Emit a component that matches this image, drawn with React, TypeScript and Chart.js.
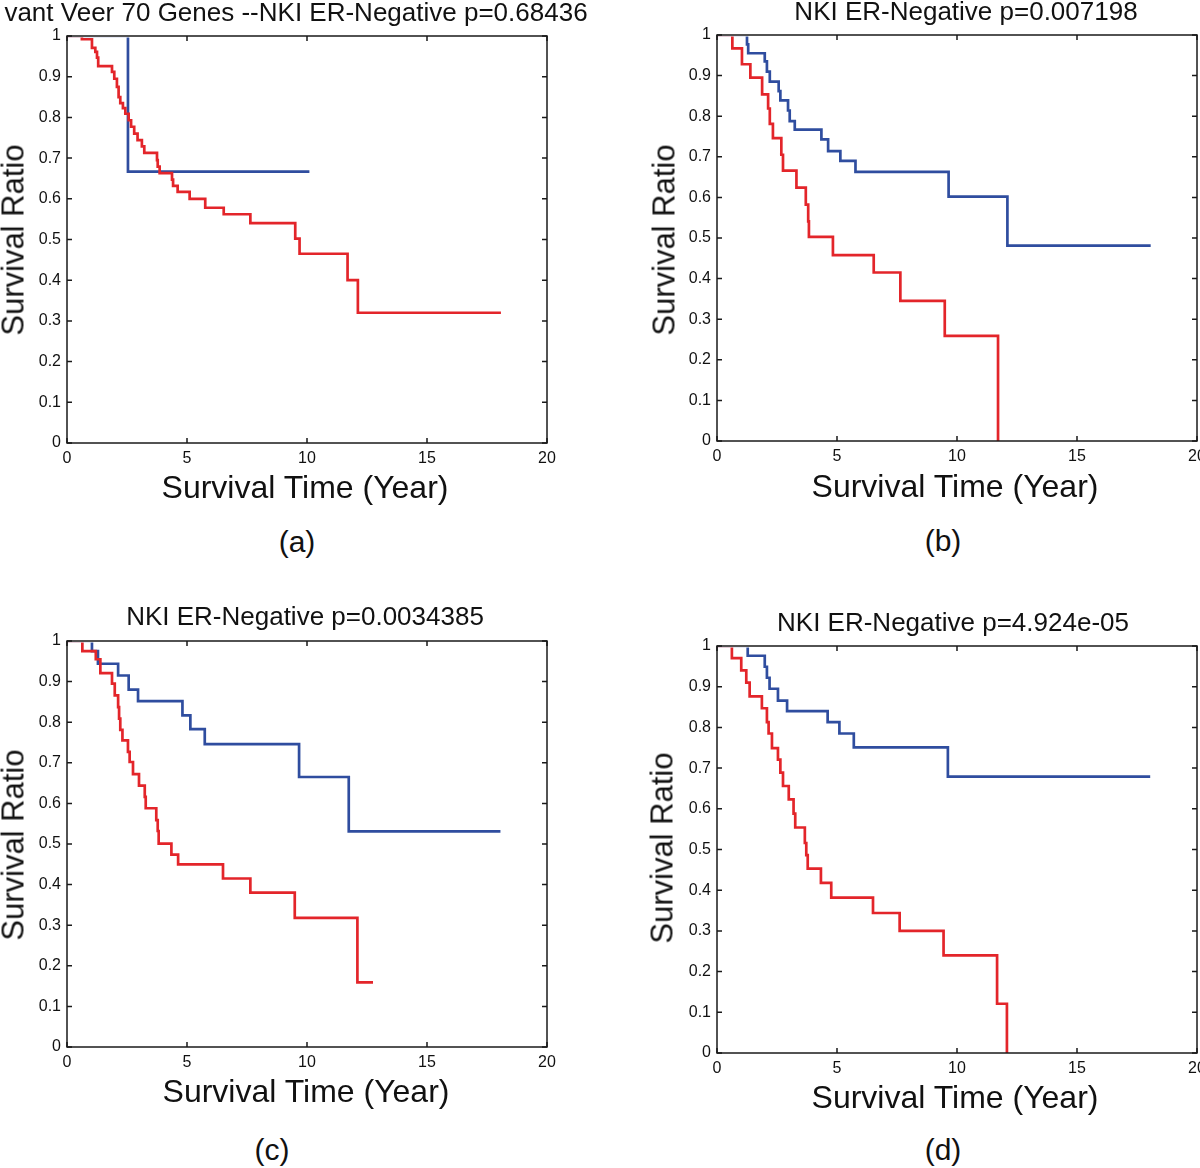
import React, { useEffect, useRef } from "react";
import { Chart, registerables } from "chart.js";

Chart.register(...registerables);

// ---------- tick labels & text ----------
const xTickValues = [0, 5, 10, 15, 20];
const xTickLabels = ["0", "5", "10", "15", "20"];
const yTickValues = [0, 0.1, 0.2, 0.3, 0.4, 0.5, 0.6, 0.7, 0.8, 0.9, 1];
const yTickLabels = ["0", "0.1", "0.2", "0.3", "0.4", "0.5", "0.6", "0.7", "0.8", "0.9", "1"];

const panelTitles = [
  "vant Veer 70 Genes --NKI ER-Negative p=0.68436",
  "NKI ER-Negative p=0.007198",
  "NKI ER-Negative p=0.0034385",
  "NKI ER-Negative p=4.924e-05",
];
const panelLetters = ["(a)", "(b)", "(c)", "(d)"];
const xAxisTitle = "Survival Time (Year)";
const yAxisTitle = "Survival Ratio";

// ---------- data (years, survival ratio) ----------
const aBlueTime = [0, 2.54, 10.1];
const aBlueSurv = [1, 0.667, 0.667];
const aRedTime = [0, 0.62, 1.04, 1.18, 1.25, 1.3, 1.875, 1.97, 2.08, 2.15, 2.22, 2.33, 2.43, 2.57, 2.67, 2.8, 2.94, 3.12, 3.22, 3.75, 3.78, 3.86, 4.375, 4.42, 4.61, 5.11, 5.76, 6.53, 7.64, 9.51, 9.69, 11.69, 12.12, 18.08];
const aRedSurv = [1, 0.992, 0.971, 0.961, 0.947, 0.926, 0.912, 0.895, 0.875, 0.85, 0.835, 0.823, 0.809, 0.793, 0.777, 0.76, 0.744, 0.729, 0.713, 0.695, 0.679, 0.663, 0.647, 0.632, 0.617, 0.6, 0.578, 0.562, 0.54, 0.502, 0.465, 0.4, 0.32, 0.32];

const bBlueTime = [0, 1.25, 1.3, 1.99, 2.08, 2.2, 2.57, 2.64, 2.96, 3.03, 3.24, 4.35, 4.63, 5.14, 5.77, 9.65, 12.1, 18.07];
const bBlueSurv = [1, 0.977, 0.955, 0.935, 0.91, 0.885, 0.862, 0.839, 0.814, 0.788, 0.767, 0.743, 0.714, 0.69, 0.663, 0.602, 0.481, 0.481];
const bRedTime = [0, 0.64, 1.04, 1.39, 1.88, 2.13, 2.2, 2.33, 2.68, 2.75, 3.31, 3.7, 3.8, 3.83, 4.83, 6.53, 7.64, 9.49, 11.71];
const bRedSurv = [1, 0.967, 0.928, 0.895, 0.854, 0.819, 0.781, 0.746, 0.705, 0.666, 0.624, 0.582, 0.541, 0.503, 0.458, 0.415, 0.345, 0.259, 0];

const cBlueTime = [0, 1.04, 1.29, 2.13, 2.57, 2.96, 4.81, 5.14, 5.74, 9.67, 11.74, 18.06];
const cBlueSurv = [1, 0.975, 0.944, 0.915, 0.88, 0.852, 0.817, 0.783, 0.746, 0.665, 0.531, 0.531];
const cRedTime = [0, 0.64, 1.2, 1.39, 1.875, 1.99, 2.13, 2.17, 2.22, 2.31, 2.54, 2.61, 2.75, 3.0, 3.24, 3.28, 3.72, 3.78, 3.82, 4.35, 4.63, 6.5, 7.64, 9.49, 12.1, 12.75];
const cRedSurv = [1, 0.975, 0.955, 0.921, 0.895, 0.866, 0.837, 0.809, 0.781, 0.755, 0.727, 0.702, 0.672, 0.644, 0.616, 0.588, 0.559, 0.532, 0.501, 0.474, 0.45, 0.415, 0.38, 0.318, 0.159, 0.159];

const dBlueTime = [0, 1.28, 1.99, 2.08, 2.19, 2.54, 2.92, 4.61, 5.1, 5.7, 9.62, 18.05];
const dBlueSurv = [1, 0.976, 0.949, 0.922, 0.895, 0.866, 0.84, 0.813, 0.785, 0.751, 0.679, 0.679];
const dRedTime = [0, 0.62, 1.01, 1.22, 1.36, 1.87, 2.08, 2.15, 2.29, 2.54, 2.64, 2.75, 2.99, 3.19, 3.26, 3.66, 3.72, 3.78, 4.33, 4.76, 6.5, 7.61, 9.44, 11.67, 12.08];
const dRedSurv = [1, 0.97, 0.94, 0.91, 0.876, 0.847, 0.813, 0.785, 0.749, 0.721, 0.689, 0.656, 0.623, 0.588, 0.554, 0.516, 0.486, 0.453, 0.418, 0.382, 0.344, 0.3, 0.24, 0.121, 0];

// ---------- styling / layout ----------
const FONT = '"Liberation Sans", Arial, Helvetica, sans-serif';
const RED = "#E3252A";
const BLUE = "#2F4D9F";

const panelLayout = [
  { L: 67, T: 36, H: 407, title: [296, 12], xt: [305, 487], yt: [13, 240], letter: [297, 542] },
  { L: 717, T: 35, H: 406, title: [966, 11], xt: [955, 486], yt: [664, 240], letter: [943, 541] },
  { L: 67, T: 641, H: 406, title: [305, 616], xt: [306, 1091], yt: [13, 845], letter: [272, 1150] },
  { L: 717, T: 646, H: 407, title: [953, 622], xt: [955, 1097], yt: [662, 848], letter: [943, 1150] },
];

const panelData = [
  { redT: aRedTime, redS: aRedSurv, blueT: aBlueTime, blueS: aBlueSurv },
  { redT: bRedTime, redS: bRedSurv, blueT: bBlueTime, blueS: bBlueSurv },
  { redT: cRedTime, redS: cRedSurv, blueT: cBlueTime, blueS: cBlueSurv },
  { redT: dRedTime, redS: dRedSurv, blueT: dBlueTime, blueS: dBlueSurv },
];

const toPoints = (t: number[], s: number[]) => t.map((x, i) => ({ x, y: s[i] }));

const boxPlugin = {
  id: "matlabBox",
  afterDatasetsDraw(chart: any) {
    const { ctx, chartArea: a, scales } = chart;
    const xs = scales.x;
    const ys = scales.y;
    const tl = 5;
    ctx.save();
    ctx.strokeStyle = "#1a1a1a";
    ctx.lineWidth = 1.5;
    ctx.strokeRect(a.left, a.top, a.right - a.left, a.bottom - a.top);
    ctx.beginPath();
    for (const v of xTickValues) {
      const px = xs.getPixelForValue(v);
      ctx.moveTo(px, a.bottom);
      ctx.lineTo(px, a.bottom - tl);
      ctx.moveTo(px, a.top);
      ctx.lineTo(px, a.top + tl);
    }
    for (const v of yTickValues) {
      const py = ys.getPixelForValue(v);
      ctx.moveTo(a.left, py);
      ctx.lineTo(a.left + tl, py);
      ctx.moveTo(a.right, py);
      ctx.lineTo(a.right - tl, py);
    }
    ctx.stroke();
    ctx.restore();
  },
};

const PAD_L = 4;
const Y_W = 56;
const PAD_T = 15;
const PAD_R = 20;
const X_H = 32;
const PAD_B = 4;
const PLOT_W = 480;

function Panel({ idx }: { idx: number }) {
  const ref = useRef<HTMLCanvasElement | null>(null);
  const lay = panelLayout[idx];
  const d = panelData[idx];
  const cw = PAD_L + Y_W + PLOT_W + PAD_R;
  const ch = PAD_T + lay.H + X_H + PAD_B;

  useEffect(() => {
    if (!ref.current) return;
    const tickFont = { family: FONT, size: 16 };
    const clip = { left: 0, top: -1.6, right: 2, bottom: 2 };
    const chart = new Chart(ref.current, {
      type: "line",
      data: {
        datasets: [
          {
            label: "red",
            data: toPoints(d.redT, d.redS),
            borderColor: RED,
            borderWidth: 2.7,
            stepped: true,
            pointRadius: 0,
            fill: false,
            clip,
          },
          {
            label: "blue",
            data: toPoints(d.blueT, d.blueS),
            borderColor: BLUE,
            borderWidth: 2.7,
            stepped: true,
            pointRadius: 0,
            fill: false,
            clip,
          },
        ],
      },
      options: {
        animation: false,
        responsive: false,
        maintainAspectRatio: false,
        events: [],
        layout: { padding: { left: PAD_L, top: PAD_T, right: PAD_R, bottom: PAD_B } },
        plugins: { legend: { display: false }, tooltip: { enabled: false }, title: { display: false } },
        scales: {
          x: {
            type: "linear",
            min: 0,
            max: 20,
            grid: { display: false, drawTicks: false },
            border: { display: false },
            ticks: {
              autoSkip: false,
              maxRotation: 0,
              padding: 6,
              color: "#111",
              font: tickFont,
              callback: (_v: any, i: number) => xTickLabels[i],
            },
            afterBuildTicks: (s: any) => {
              s.ticks = xTickValues.map((v) => ({ value: v }));
            },
            afterFit: (s: any) => {
              s.height = X_H;
              s.paddingLeft = 0;
              s.paddingRight = 0;
            },
          },
          y: {
            type: "linear",
            min: 0,
            max: 1,
            grid: { display: false, drawTicks: false },
            border: { display: false },
            ticks: {
              autoSkip: false,
              padding: 6,
              color: "#111",
              font: tickFont,
              callback: (_v: any, i: number) => yTickLabels[i],
            },
            afterBuildTicks: (s: any) => {
              s.ticks = yTickValues.map((v) => ({ value: v }));
            },
            afterFit: (s: any) => {
              s.width = Y_W;
              s.paddingTop = 0;
              s.paddingBottom = 0;
            },
          },
        },
      },
      plugins: [boxPlugin],
    } as any);
    return () => chart.destroy();
  }, [idx]);

  const textBase: React.CSSProperties = {
    position: "absolute",
    whiteSpace: "nowrap",
    lineHeight: 1,
    color: "#111",
    fontFamily: FONT,
  };

  return (
    <>
      <canvas
        ref={ref}
        width={cw}
        height={ch}
        style={{
          position: "absolute",
          left: lay.L - PAD_L - Y_W,
          top: lay.T - PAD_T,
          width: cw,
          height: ch,
        }}
      />
      <div
        style={{
          ...textBase,
          left: lay.title[0],
          top: lay.title[1],
          fontSize: 26,
          transform: "translate(-50%, -50%)",
        }}
      >
        {panelTitles[idx]}
      </div>
      <div
        style={{
          ...textBase,
          left: lay.xt[0],
          top: lay.xt[1],
          fontSize: 32,
          transform: "translate(-50%, -50%)",
        }}
      >
        {xAxisTitle}
      </div>
      <div
        style={{
          ...textBase,
          left: lay.yt[0],
          top: lay.yt[1],
          fontSize: 31,
          transform: "translate(-50%, -50%) rotate(-90deg)",
        }}
      >
        {yAxisTitle}
      </div>
      <div
        style={{
          ...textBase,
          left: lay.letter[0],
          top: lay.letter[1],
          fontSize: 30,
          transform: "translate(-50%, -50%)",
        }}
      >
        {panelLetters[idx]}
      </div>
    </>
  );
}

export default function App() {
  return (
    <div
      style={{
        position: "absolute",
        left: 0,
        top: 0,
        width: 1200,
        height: 1168,
        overflow: "hidden",
        background: "#fff",
      }}
    >
      {[0, 1, 2, 3].map((i) => (
        <Panel key={i} idx={i} />
      ))}
    </div>
  );
}
